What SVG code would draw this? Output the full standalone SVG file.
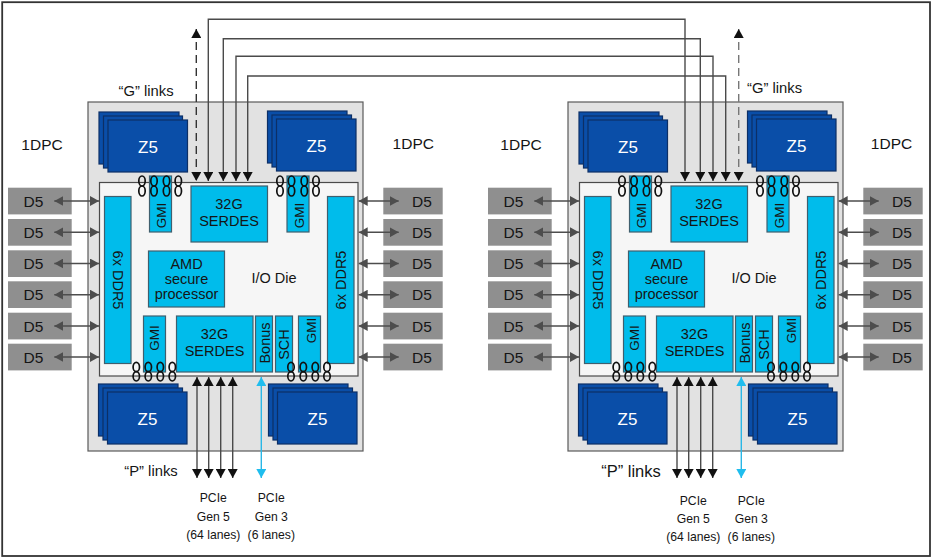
<svg xmlns="http://www.w3.org/2000/svg" width="932" height="559" viewBox="0 0 932 559">
<style>
text{font-family:"Liberation Sans",Arial,sans-serif;fill:#151515;text-anchor:middle;font-size:14.5px}
.sock{fill:#e2e2e2;stroke:#5a5a5a;stroke-width:1.2}
.die{fill:#f6f6f6;stroke:#4a4a4a;stroke-width:1.2}
.z{fill:#0a4ea8;stroke:#0c2f66;stroke-width:1.2}
text.z5{fill:#fff;font-size:17px}
.b{fill:#00bceb;stroke:#3f5f6e;stroke-width:1.2}
.d{fill:#8f8f8f}
text.t{font-size:15.500px}
text.dt{font-size:15.500px}
text.gm{font-size:13.500px}
text.l{font-size:12.200px}
text.k{font-size:14.800px}
.r{fill:none;stroke:#111;stroke-width:1.700}
.ln{fill:none;stroke:#4a4a4a;stroke-width:1.4}
.dash{fill:none;stroke:#333;stroke-width:1.4;stroke-dasharray:8 5;marker-start:url(#blkS);marker-end:url(#blk)}
.p{marker-start:url(#blkS);marker-end:url(#blk)}
.m{fill:none;stroke:#4d4d4d;stroke-width:1.600;marker-start:url(#gryS);marker-end:url(#gry)}
.c{fill:none;stroke:#2ab7e6;stroke-width:1.4;marker-start:url(#bluS);marker-end:url(#blu)}
</style>
<defs>
<marker id="blk" markerUnits="userSpaceOnUse" markerWidth="10" markerHeight="10" viewBox="0 0 9 10" refX="9" refY="5" orient="auto"><path d="M0 0L9 5L0 10Z" fill="#111"/></marker>
<marker id="blkS" markerUnits="userSpaceOnUse" markerWidth="10" markerHeight="10" viewBox="0 0 9 10" refX="0" refY="5" orient="auto"><path d="M9 0L0 5L9 10Z" fill="#111"/></marker>
<marker id="gry" markerUnits="userSpaceOnUse" markerWidth="9" markerHeight="10" viewBox="0 0 9 10" refX="9" refY="5" orient="auto"><path d="M0 0L9 5L0 10Z" fill="#4d4d4d"/></marker>
<marker id="gryS" markerUnits="userSpaceOnUse" markerWidth="9" markerHeight="10" viewBox="0 0 9 10" refX="0" refY="5" orient="auto"><path d="M9 0L0 5L9 10Z" fill="#4d4d4d"/></marker>
<marker id="blu" markerUnits="userSpaceOnUse" markerWidth="10" markerHeight="10" viewBox="0 0 9 10" refX="9" refY="5" orient="auto"><path d="M0 0L9 5L0 10Z" fill="#1fbdee"/></marker>
<marker id="bluS" markerUnits="userSpaceOnUse" markerWidth="10" markerHeight="10" viewBox="0 0 9 10" refX="0" refY="5" orient="auto"><path d="M9 0L0 5L9 10Z" fill="#1fbdee"/></marker>
</defs>
<rect x="2.200" y="2.200" width="927.800" height="553.800" fill="#fff" stroke="#333" stroke-width="1.800"/>

<g id="cpu-left">
<g id="L-socket"><rect class="sock" x="88" y="102" width="275" height="349"/></g>
<g id="L-z5-tl"><rect class="z" x="99" y="112" width="80" height="52"/><rect class="z" x="103.500" y="116" width="79" height="52"/><rect class="z" x="108" y="120" width="79.500" height="52"/><text class="z5" x="148" y="152.500">Z5</text></g>
<g id="L-z5-tr"><rect class="z" x="267.500" y="111" width="79.500" height="52"/><rect class="z" x="272" y="115" width="79.500" height="52"/><rect class="z" x="276.500" y="119" width="79.500" height="52"/><text class="z5" x="316.500" y="151.500">Z5</text></g>
<g id="L-z5-bl"><rect class="z" x="98.500" y="384" width="79.500" height="52"/><rect class="z" x="103" y="388" width="79.500" height="52"/><rect class="z" x="107.500" y="392" width="79.500" height="52"/><text class="z5" x="147.500" y="425">Z5</text></g>
<g id="L-z5-br"><rect class="z" x="268.500" y="384" width="79.500" height="52"/><rect class="z" x="273" y="388" width="79.500" height="52"/><rect class="z" x="277.500" y="392" width="79.500" height="52"/><text class="z5" x="317.500" y="425">Z5</text></g>
<g id="L-die"><rect class="die" x="99.500" y="182.500" width="258.500" height="193.500"/><text x="274" y="283">I/O Die</text></g>
<g id="L-ddr-l"><rect class="b" x="104.500" y="196.500" width="26.500" height="167"/><text transform="translate(112.500,280) rotate(90)">6x DDR5</text></g>
<g id="L-ddr-r"><rect class="b" x="327.500" y="196.500" width="26.500" height="167"/><text transform="translate(345.500,280) rotate(-90)">6x DDR5</text></g>
<g id="L-serdes-t"><rect class="b" x="191" y="186" width="76.500" height="56"/><text x="229" y="209">32G</text><text x="229" y="226">SERDES</text></g>
<g id="L-serdes-b"><rect class="b" x="176.500" y="316" width="76.500" height="56"/><text x="214.500" y="339">32G</text><text x="214.500" y="356">SERDES</text></g>
<g id="L-amd"><rect class="b" x="148.500" y="251" width="76" height="56"/><text x="186.500" y="268.500">AMD</text><text x="186.500" y="283.500">secure</text><text x="186.500" y="298.500">processor</text></g>
<g id="L-gmi-t1"><rect class="b" x="149.500" y="176" width="22" height="56"/><text class="gm" transform="translate(165.500,215.500) rotate(-90)">GMI</text></g>
<g id="L-gmi-t2"><rect class="b" x="287" y="176" width="22" height="56"/><text class="gm" transform="translate(303.500,215.500) rotate(-90)">GMI</text></g>
<g id="L-gmi-b1"><rect class="b" x="143.500" y="316" width="22" height="56"/><text class="gm" transform="translate(158.500,338) rotate(-90)">GMI</text></g>
<g id="L-gmi-b2"><rect class="b" x="298.500" y="316" width="22" height="56"/><text class="gm" transform="translate(316,330.500) rotate(-90)">GMI</text></g>
<g id="L-bonus"><rect class="b" x="255.500" y="316" width="17" height="56"/><text transform="translate(269.800,343) rotate(-90)">Bonus</text></g>
<g id="L-sch"><rect class="b" x="275.500" y="316" width="17" height="56"/><text transform="translate(289.300,344.500) rotate(-90)">SCH</text></g>
<g id="L-rings">
<g id="L-rings-t1"><ellipse class="r" cx="142" cy="181" rx="3.200" ry="5"/><ellipse class="r" cx="142" cy="191" rx="3.200" ry="5"/><ellipse class="r" cx="154" cy="181" rx="3.200" ry="5"/><ellipse class="r" cx="154" cy="191" rx="3.200" ry="5"/><ellipse class="r" cx="166.500" cy="181" rx="3.200" ry="5"/><ellipse class="r" cx="166.500" cy="191" rx="3.200" ry="5"/><ellipse class="r" cx="178.300" cy="181" rx="3.200" ry="5"/><ellipse class="r" cx="178.300" cy="191" rx="3.200" ry="5"/></g>
<g id="L-rings-t2"><ellipse class="r" cx="280" cy="181" rx="3.200" ry="5"/><ellipse class="r" cx="280" cy="191" rx="3.200" ry="5"/><ellipse class="r" cx="291.500" cy="181" rx="3.200" ry="5"/><ellipse class="r" cx="291.500" cy="191" rx="3.200" ry="5"/><ellipse class="r" cx="304.300" cy="181" rx="3.200" ry="5"/><ellipse class="r" cx="304.300" cy="191" rx="3.200" ry="5"/><ellipse class="r" cx="316" cy="181" rx="3.200" ry="5"/><ellipse class="r" cx="316" cy="191" rx="3.200" ry="5"/></g>
<g id="L-rings-b1"><ellipse class="r" cx="136.300" cy="367" rx="3.200" ry="4.700"/><ellipse class="r" cx="136.300" cy="376.300" rx="3.200" ry="4.700"/><ellipse class="r" cx="148.300" cy="367" rx="3.200" ry="4.700"/><ellipse class="r" cx="148.300" cy="376.300" rx="3.200" ry="4.700"/><ellipse class="r" cx="160.300" cy="367" rx="3.200" ry="4.700"/><ellipse class="r" cx="160.300" cy="376.300" rx="3.200" ry="4.700"/><ellipse class="r" cx="172.300" cy="367" rx="3.200" ry="4.700"/><ellipse class="r" cx="172.300" cy="376.300" rx="3.200" ry="4.700"/></g>
<g id="L-rings-b2"><ellipse class="r" cx="291" cy="367" rx="3.200" ry="4.700"/><ellipse class="r" cx="291" cy="376.300" rx="3.200" ry="4.700"/><ellipse class="r" cx="303.300" cy="367" rx="3.200" ry="4.700"/><ellipse class="r" cx="303.300" cy="376.300" rx="3.200" ry="4.700"/><ellipse class="r" cx="315.300" cy="367" rx="3.200" ry="4.700"/><ellipse class="r" cx="315.300" cy="376.300" rx="3.200" ry="4.700"/><ellipse class="r" cx="327" cy="367" rx="3.200" ry="4.700"/><ellipse class="r" cx="327" cy="376.300" rx="3.200" ry="4.700"/></g>
</g>
<g id="L-d5-l1"><rect class="d" x="8" y="187.700" width="63.700" height="26.700"/><text class="dt" x="33.500" y="206.700">D5</text></g>
<g id="L-d5-l2"><rect class="d" x="8" y="219" width="63.700" height="26.700"/><text class="dt" x="33.500" y="238">D5</text></g>
<g id="L-d5-l3"><rect class="d" x="8" y="250.300" width="63.700" height="26.700"/><text class="dt" x="33.500" y="269.300">D5</text></g>
<g id="L-d5-l4"><rect class="d" x="8" y="281.300" width="63.700" height="26.700"/><text class="dt" x="33.500" y="300.300">D5</text></g>
<g id="L-d5-l5"><rect class="d" x="8" y="312.700" width="63.700" height="26.700"/><text class="dt" x="33.500" y="331.700">D5</text></g>
<g id="L-d5-l6"><rect class="d" x="8" y="343.700" width="63.700" height="26.700"/><text class="dt" x="33.500" y="362.700">D5</text></g>
<g id="L-d5-r1"><rect class="d" x="383.300" y="187.700" width="59.400" height="26.700"/><text class="dt" x="422" y="206.700">D5</text></g>
<g id="L-d5-r2"><rect class="d" x="383.300" y="219" width="59.400" height="26.700"/><text class="dt" x="422" y="238">D5</text></g>
<g id="L-d5-r3"><rect class="d" x="383.300" y="250.300" width="59.400" height="26.700"/><text class="dt" x="422" y="269.300">D5</text></g>
<g id="L-d5-r4"><rect class="d" x="383.300" y="281.300" width="59.400" height="26.700"/><text class="dt" x="422" y="300.300">D5</text></g>
<g id="L-d5-r5"><rect class="d" x="383.300" y="312.700" width="59.400" height="26.700"/><text class="dt" x="422" y="331.700">D5</text></g>
<g id="L-d5-r6"><rect class="d" x="383.300" y="343.700" width="59.400" height="26.700"/><text class="dt" x="422" y="362.700">D5</text></g>
<text class="t" x="42" y="150">1DPC</text>
<text class="t" x="413.300" y="149">1DPC</text>
<text class="k" x="146" y="96">“G” links</text>
<text class="k" x="151" y="476">“P” links</text>
<text class="l" x="213.300" y="502">PCIe</text><text class="l" x="213.300" y="521">Gen 5</text><text class="l" x="213.300" y="539">(64 lanes)</text>
<text class="l" x="271.300" y="502">PCIe</text><text class="l" x="271.300" y="521">Gen 3</text><text class="l" x="271.300" y="539">(6 lanes)</text>
</g>

<g id="cpu-right">
<g id="R-socket"><rect class="sock" x="568" y="102" width="275" height="349"/></g>
<g id="R-z5-tl"><rect class="z" x="579" y="112" width="80" height="52"/><rect class="z" x="583.500" y="116" width="79" height="52"/><rect class="z" x="588" y="120" width="79.500" height="52"/><text class="z5" x="628" y="152.500">Z5</text></g>
<g id="R-z5-tr"><rect class="z" x="747.500" y="111" width="79.500" height="52"/><rect class="z" x="752" y="115" width="79.500" height="52"/><rect class="z" x="756.500" y="119" width="79.500" height="52"/><text class="z5" x="796.500" y="151.500">Z5</text></g>
<g id="R-z5-bl"><rect class="z" x="578.500" y="384" width="79.500" height="52"/><rect class="z" x="583" y="388" width="79.500" height="52"/><rect class="z" x="587.500" y="392" width="79.500" height="52"/><text class="z5" x="627.500" y="425">Z5</text></g>
<g id="R-z5-br"><rect class="z" x="748.500" y="384" width="79.500" height="52"/><rect class="z" x="753" y="388" width="79.500" height="52"/><rect class="z" x="757.500" y="392" width="79.500" height="52"/><text class="z5" x="797.500" y="425">Z5</text></g>
<g id="R-die"><rect class="die" x="579.500" y="182.500" width="258.500" height="193.500"/><text x="754" y="283">I/O Die</text></g>
<g id="R-ddr-l"><rect class="b" x="584.500" y="196.500" width="26.500" height="167"/><text transform="translate(592.500,280) rotate(90)">6x DDR5</text></g>
<g id="R-ddr-r"><rect class="b" x="807.500" y="196.500" width="26.500" height="167"/><text transform="translate(825.500,280) rotate(-90)">6x DDR5</text></g>
<g id="R-serdes-t"><rect class="b" x="671" y="186" width="76.500" height="56"/><text x="709" y="209">32G</text><text x="709" y="226">SERDES</text></g>
<g id="R-serdes-b"><rect class="b" x="656.500" y="316" width="76.500" height="56"/><text x="694.500" y="339">32G</text><text x="694.500" y="356">SERDES</text></g>
<g id="R-amd"><rect class="b" x="628.500" y="251" width="76" height="56"/><text x="666.500" y="268.500">AMD</text><text x="666.500" y="283.500">secure</text><text x="666.500" y="298.500">processor</text></g>
<g id="R-gmi-t1"><rect class="b" x="629.500" y="176" width="22" height="56"/><text class="gm" transform="translate(645.500,215.500) rotate(-90)">GMI</text></g>
<g id="R-gmi-t2"><rect class="b" x="767" y="176" width="22" height="56"/><text class="gm" transform="translate(783.500,215.500) rotate(-90)">GMI</text></g>
<g id="R-gmi-b1"><rect class="b" x="623.500" y="316" width="22" height="56"/><text class="gm" transform="translate(638.500,338) rotate(-90)">GMI</text></g>
<g id="R-gmi-b2"><rect class="b" x="778.500" y="316" width="22" height="56"/><text class="gm" transform="translate(796,330.500) rotate(-90)">GMI</text></g>
<g id="R-bonus"><rect class="b" x="735.500" y="316" width="17" height="56"/><text transform="translate(749.800,343) rotate(-90)">Bonus</text></g>
<g id="R-sch"><rect class="b" x="755.500" y="316" width="17" height="56"/><text transform="translate(769.300,344.500) rotate(-90)">SCH</text></g>
<g id="R-rings" transform="translate(480,0)">
<g id="R-rings-t1"><ellipse class="r" cx="142" cy="181" rx="3.200" ry="5"/><ellipse class="r" cx="142" cy="191" rx="3.200" ry="5"/><ellipse class="r" cx="154" cy="181" rx="3.200" ry="5"/><ellipse class="r" cx="154" cy="191" rx="3.200" ry="5"/><ellipse class="r" cx="166.500" cy="181" rx="3.200" ry="5"/><ellipse class="r" cx="166.500" cy="191" rx="3.200" ry="5"/><ellipse class="r" cx="178.300" cy="181" rx="3.200" ry="5"/><ellipse class="r" cx="178.300" cy="191" rx="3.200" ry="5"/></g>
<g id="R-rings-t2"><ellipse class="r" cx="280" cy="181" rx="3.200" ry="5"/><ellipse class="r" cx="280" cy="191" rx="3.200" ry="5"/><ellipse class="r" cx="291.500" cy="181" rx="3.200" ry="5"/><ellipse class="r" cx="291.500" cy="191" rx="3.200" ry="5"/><ellipse class="r" cx="304.300" cy="181" rx="3.200" ry="5"/><ellipse class="r" cx="304.300" cy="191" rx="3.200" ry="5"/><ellipse class="r" cx="316" cy="181" rx="3.200" ry="5"/><ellipse class="r" cx="316" cy="191" rx="3.200" ry="5"/></g>
<g id="R-rings-b1"><ellipse class="r" cx="136.300" cy="367" rx="3.200" ry="4.700"/><ellipse class="r" cx="136.300" cy="376.300" rx="3.200" ry="4.700"/><ellipse class="r" cx="148.300" cy="367" rx="3.200" ry="4.700"/><ellipse class="r" cx="148.300" cy="376.300" rx="3.200" ry="4.700"/><ellipse class="r" cx="160.300" cy="367" rx="3.200" ry="4.700"/><ellipse class="r" cx="160.300" cy="376.300" rx="3.200" ry="4.700"/><ellipse class="r" cx="172.300" cy="367" rx="3.200" ry="4.700"/><ellipse class="r" cx="172.300" cy="376.300" rx="3.200" ry="4.700"/></g>
<g id="R-rings-b2"><ellipse class="r" cx="291" cy="367" rx="3.200" ry="4.700"/><ellipse class="r" cx="291" cy="376.300" rx="3.200" ry="4.700"/><ellipse class="r" cx="303.300" cy="367" rx="3.200" ry="4.700"/><ellipse class="r" cx="303.300" cy="376.300" rx="3.200" ry="4.700"/><ellipse class="r" cx="315.300" cy="367" rx="3.200" ry="4.700"/><ellipse class="r" cx="315.300" cy="376.300" rx="3.200" ry="4.700"/><ellipse class="r" cx="327" cy="367" rx="3.200" ry="4.700"/><ellipse class="r" cx="327" cy="376.300" rx="3.200" ry="4.700"/></g>
</g>
<g id="R-d5-l1"><rect class="d" x="488" y="187.700" width="63.700" height="26.700"/><text class="dt" x="513.500" y="206.700">D5</text></g>
<g id="R-d5-l2"><rect class="d" x="488" y="219" width="63.700" height="26.700"/><text class="dt" x="513.500" y="238">D5</text></g>
<g id="R-d5-l3"><rect class="d" x="488" y="250.300" width="63.700" height="26.700"/><text class="dt" x="513.500" y="269.300">D5</text></g>
<g id="R-d5-l4"><rect class="d" x="488" y="281.300" width="63.700" height="26.700"/><text class="dt" x="513.500" y="300.300">D5</text></g>
<g id="R-d5-l5"><rect class="d" x="488" y="312.700" width="63.700" height="26.700"/><text class="dt" x="513.500" y="331.700">D5</text></g>
<g id="R-d5-l6"><rect class="d" x="488" y="343.700" width="63.700" height="26.700"/><text class="dt" x="513.500" y="362.700">D5</text></g>
<g id="R-d5-r1"><rect class="d" x="863.300" y="187.700" width="59.400" height="26.700"/><text class="dt" x="902" y="206.700">D5</text></g>
<g id="R-d5-r2"><rect class="d" x="863.300" y="219" width="59.400" height="26.700"/><text class="dt" x="902" y="238">D5</text></g>
<g id="R-d5-r3"><rect class="d" x="863.300" y="250.300" width="59.400" height="26.700"/><text class="dt" x="902" y="269.300">D5</text></g>
<g id="R-d5-r4"><rect class="d" x="863.300" y="281.300" width="59.400" height="26.700"/><text class="dt" x="902" y="300.300">D5</text></g>
<g id="R-d5-r5"><rect class="d" x="863.300" y="312.700" width="59.400" height="26.700"/><text class="dt" x="902" y="331.700">D5</text></g>
<g id="R-d5-r6"><rect class="d" x="863.300" y="343.700" width="59.400" height="26.700"/><text class="dt" x="902" y="362.700">D5</text></g>
<text class="t" x="521" y="150">1DPC</text>
<text class="t" x="891.500" y="149">1DPC</text>
<text class="k" x="774.500" y="92.700">“G” links</text>
<text style="font-size:16.500px" x="631" y="477">“P” links</text>
<text class="l" x="693.300" y="505">PCIe</text><text class="l" x="693.300" y="523">Gen 5</text><text class="l" x="693.300" y="541">(64 lanes)</text>
<text class="l" x="751.300" y="505">PCIe</text><text class="l" x="751.300" y="523">Gen 3</text><text class="l" x="751.300" y="541">(6 lanes)</text>
</g>

<g id="connectors">
<path class="ln p" d="M208.300 181V19.300H685V181"/>
<path class="ln p" d="M223.300 181V38.700H700.300V181"/>
<path class="ln p" d="M236 181V56.300H713V181"/>
<path class="ln p" d="M247.700 181V76H725.700V181"/>
<path class="dash" d="M196.300 29V181"/>
<path class="dash" style="stroke:#777" d="M738.700 29V181"/>
<path class="m" d="M54.300 201H99"/><path class="m" d="M54.300 232.300H99"/><path class="m" d="M54.300 263.500H99"/><path class="m" d="M54.300 294.700H99"/><path class="m" d="M54.300 326H99"/><path class="m" d="M54.300 357H99"/>
<path class="m" d="M358.700 201H398.700"/><path class="m" d="M358.700 232.300H398.700"/><path class="m" d="M358.700 263.500H398.700"/><path class="m" d="M358.700 294.700H398.700"/><path class="m" d="M358.700 326H398.700"/><path class="m" d="M358.700 357H398.700"/>
<path class="m" d="M534.300 201H579"/><path class="m" d="M534.300 232.300H579"/><path class="m" d="M534.300 263.500H579"/><path class="m" d="M534.300 294.700H579"/><path class="m" d="M534.300 326H579"/><path class="m" d="M534.300 357H579"/>
<path class="m" d="M838.700 201H878.700"/><path class="m" d="M838.700 232.300H878.700"/><path class="m" d="M838.700 263.500H878.700"/><path class="m" d="M838.700 294.700H878.700"/><path class="m" d="M838.700 326H878.700"/><path class="m" d="M838.700 357H878.700"/>
<path class="ln p" d="M197 377V478"/><path class="ln p" d="M208.700 377V478"/><path class="ln p" d="M220.700 377V478"/><path class="ln p" d="M232.700 377V478"/>
<path class="c" d="M261.300 377V478"/>
<path class="ln p" d="M677 377V478"/><path class="ln p" d="M688.700 377V478"/><path class="ln p" d="M700.700 377V478"/><path class="ln p" d="M712.700 377V478"/>
<path class="c" d="M741.300 377V478"/>
</g>
</svg>
